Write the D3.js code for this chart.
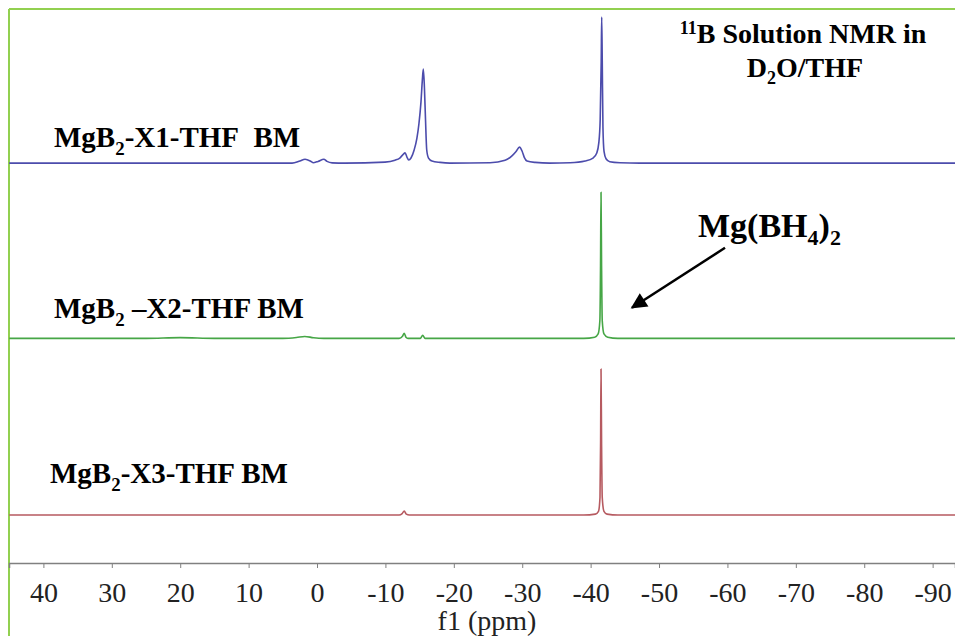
<!DOCTYPE html>
<html>
<head>
<meta charset="utf-8">
<script src="https://cdn.jsdelivr.net/npm/d3@7"></script>
<style>
  body { margin: 0; background: #fff; }
  svg { display: block; }
  .lbl { font-family: "Liberation Serif", "Times New Roman", serif; font-weight: bold; fill: #000; }
</style>
</head>
<body>
<svg id="chart" width="955" height="636"></svg>
<script>
// chemical shift (ppm) / intensity pairs, main peak = 100
var spec1 = [[45,0],[8,0],[3.65,0],[2.5,1.5],[1.75,2.7],[1.0,1.5],[0.58,0.3],[-0.15,1.2],[-1.0,2.7],
  [-1.46,1.2],[-2.2,0.2],[-4.1,0],[-9.94,0.7],[-11.4,2],[-12.1,3.5],[-12.6,6],[-12.87,7],[-13.16,4],
  [-13.4,2.2],[-13.74,3.5],[-14.2,9],[-14.6,17],[-14.9,27],[-15.2,42],[-15.4,57],[-15.54,64.4],
  [-15.7,52],[-15.86,30],[-16.04,9],[-16.3,3.5],[-16.8,1.5],[-18,0.5],[-19.4,0],[-25.3,0.3],
  [-27.5,2],[-28.5,5],[-29.1,8],[-29.6,11],[-30.0,8],[-30.3,4],[-30.7,1.5],[-31.9,0.5],[-34,0],
  [-37,0.3],[-39.2,1.5],[-40.35,3.5],[-40.9,7],[-41.2,14],[-41.4,30],[-41.55,70],[-41.62,100],
  [-41.7,70],[-41.8,25],[-41.96,8],[-42.25,3],[-42.8,1],[-44.3,0.3],[-47.2,0],[-93.3,0]];
var spec2 = [[45,0],[25,0],[20,0.5],[15,0],[5,0],[3,0.6],[1.8,1.3],[0.5,0.4],[-1,0],[-12,0],
  [-12.5,1.5],[-12.75,3.4],[-13.0,0.8],[-13.3,0],[-15.1,0],[-15.45,2],[-15.8,0],[-39,0],[-40.6,0.8],
  [-41.1,3],[-41.35,12],[-41.45,50],[-41.52,100],[-41.6,50],[-41.7,12],[-41.95,3],[-42.5,0.8],
  [-44,0],[-93.3,0]];
var spec3 = [[45,0],[5,0],[-12,0],[-12.45,1],[-12.75,2.7],[-13.05,0.6],[-13.5,0],[-39,0],[-40.7,0.6],
  [-41.15,2.5],[-41.37,12],[-41.46,50],[-41.52,100],[-41.6,50],[-41.7,12],[-41.95,2.5],[-42.4,0.6],
  [-44,0],[-93.3,0]];
var offsets = [241, 121, 0];
var colors = ["#4c4cac", "#46a646", "#b65a60"];
var tickVals = [40, 30, 20, 10, 0, -10, -20, -30, -40, -50, -60, -70, -80, -90];
var minorVals = d3.range(45, -93, -5);

var svg = d3.select("#chart");
var x = d3.scaleLinear().domain([45.03, -93.27]).range([9, 955]);
var y = d3.scaleLinear().domain([0, 100]).range([515, 369]);

// green frame
svg.append("line").attr("x1", 9).attr("x2", 9).attr("y1", 9).attr("y2", 636)
  .attr("stroke", "#92d050").attr("stroke-width", 2);
svg.append("line").attr("x1", 9).attr("x2", 955).attr("y1", 9).attr("y2", 9)
  .attr("stroke", "#92d050").attr("stroke-width", 2);

var line = d3.line().x(function(d) { return x(d[0]); }).curve(d3.curveMonotoneX);
[spec1, spec2, spec3].forEach(function(s, i) {
  svg.append("path").datum(s)
    .attr("d", line.y(function(d) { return y(d[1] + offsets[i]); }))
    .attr("fill", "none").attr("stroke", colors[i]).attr("stroke-width", 1.6)
    .attr("stroke-linejoin", "round");
});

// axis
var ax = svg.append("g").attr("transform", "translate(0,563)");
ax.call(d3.axisBottom(x).tickValues(minorVals).tickSize(4).tickFormat(""));
ax.call(d3.axisBottom(x).tickValues(tickVals).tickSize(5).tickPadding(14)
  .tickFormat(function(d) { return String(d); }));
ax.selectAll("path").attr("stroke", "#808080").attr("stroke-width", 1.5);
ax.selectAll("line").attr("stroke", "#808080");
ax.selectAll("text").style("font-family", "'Liberation Serif', serif").style("font-size", "28px").attr("fill", "#222");

svg.append("text").attr("x", 487).attr("y", 630).attr("text-anchor", "middle")
  .style("font-family", "'Liberation Serif', serif").style("font-size", "28px").attr("fill", "#222")
  .text("f1 (ppm)");

// sample labels
function label(px, py, pre, sub, post, size) {
  var t = svg.append("text").attr("class", "lbl").attr("x", px).attr("y", py).style("font-size", size + "px");
  t.append("tspan").text(pre);
  t.append("tspan").attr("dy", size * 0.28).style("font-size", (size * 0.65) + "px").text(sub);
  t.append("tspan").attr("dy", -size * 0.28).text(post);
  return t;
}
label(54, 147, "MgB", "2", "-X1-THF\u00a0\u00a0BM", 29);
label(54, 318, "MgB", "2", " \u2013X2-THF BM", 29);
label(50, 483, "MgB", "2", "-X3-THF BM", 29);

// title
var t1 = svg.append("text").attr("class", "lbl").attr("x", 803).attr("y", 43)
  .attr("text-anchor", "middle").style("font-size", "28px");
t1.append("tspan").attr("dy", -9).style("font-size", "18px").text("11");
t1.append("tspan").attr("dy", 9).text("B Solution NMR in");
var t2 = svg.append("text").attr("class", "lbl").attr("x", 805).attr("y", 77)
  .attr("text-anchor", "middle").style("font-size", "28px");
t2.append("tspan").text("D");
t2.append("tspan").attr("dy", 7).style("font-size", "18px").text("2");
t2.append("tspan").attr("dy", -7).text("O/THF");

// Mg(BH4)2 annotation with arrow, placed in data coordinates
var arrowFrom = [-59.65, 183], arrowTo = [-46.05, 142];
svg.append("defs").append("marker").attr("id", "head").attr("viewBox", "0 0 10 10")
  .attr("refX", 9).attr("refY", 5)
  .attr("markerUnits", "userSpaceOnUse").attr("orient", "auto")
  .attr("markerWidth", 22).attr("markerHeight", 16)
  .append("path").attr("d", "M0,0 L10,5 L0,10 Z").attr("fill", "#000");
svg.append("line")
  .attr("x1", x(arrowFrom[0])).attr("y1", y(arrowFrom[1]))
  .attr("x2", x(arrowTo[0])).attr("y2", y(arrowTo[1]))
  .attr("stroke", "#000").attr("stroke-width", 2.5).attr("marker-end", "url(#head)");
var m = svg.append("text").attr("class", "lbl").attr("x", 698).attr("y", 237).style("font-size", "34px");
m.append("tspan").text("Mg(BH");
m.append("tspan").attr("dy", 8).style("font-size", "22px").text("4");
m.append("tspan").attr("dy", -8).text(")");
m.append("tspan").attr("dy", 8).style("font-size", "22px").text("2");
</script>
</body>
</html>
